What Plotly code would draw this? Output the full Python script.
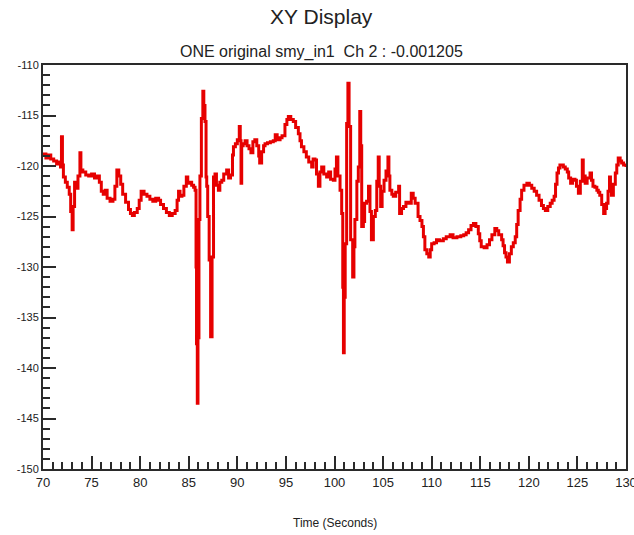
import plotly.graph_objects as go

# Time (seconds)
time_s = [
    70.0, 70.3, 70.5, 70.8, 71.1, 71.4, 71.6, 71.8, 71.9, 72.0, 72.1, 72.3, 72.5, 72.7, 72.85,
    73.0, 73.1, 73.25, 73.4, 73.6, 73.8, 73.9, 74.1, 74.4, 74.7, 75.0, 75.3, 75.6, 75.8, 76.0,
    76.2, 76.4, 76.6, 76.9, 77.2, 77.4, 77.6, 77.8, 78.0, 78.2, 78.5, 78.8, 79.0, 79.2, 79.4,
    79.7, 79.9, 80.1, 80.4, 80.7, 81.0, 81.3, 81.6, 81.9, 82.1, 82.4, 82.7, 83.0, 83.3, 83.6,
    83.8, 83.95, 84.1, 84.3, 84.5, 84.75, 84.9, 85.1, 85.3, 85.5, 85.65, 85.75, 85.8, 85.88, 85.95,
    86.05, 86.15, 86.3, 86.45, 86.55, 86.67, 86.78, 86.85, 86.95, 87.1, 87.25, 87.4, 87.55, 87.7, 87.85,
    88.05, 88.2, 88.4, 88.6, 88.9, 89.1, 89.3, 89.5, 89.6, 89.8, 90.0, 90.2, 90.3, 90.38, 90.45,
    90.6, 90.8, 91.0, 91.2, 91.4, 91.6, 91.8, 92.0, 92.2, 92.3, 92.5, 92.7, 92.85, 93.1, 93.4,
    93.7, 93.9, 94.1, 94.4, 94.6, 94.9, 95.1, 95.25, 95.5, 95.76, 96.0, 96.28, 96.45, 96.6, 96.85,
    97.1, 97.35, 97.65, 97.8, 97.99, 98.15, 98.34, 98.5, 98.68, 98.9, 99.19, 99.4, 99.6, 99.88, 100.05,
    100.2, 100.35, 100.57, 100.74, 100.85, 100.92, 101.0, 101.1, 101.25, 101.38, 101.5, 101.66, 101.87, 102.0, 102.1,
    102.3, 102.45, 102.6, 102.7, 102.8, 102.97, 103.1, 103.3, 103.5, 103.65, 103.8, 104.0, 104.2, 104.35, 104.5,
    104.6, 104.75, 104.9, 105.1, 105.3, 105.5, 105.6, 105.7, 105.9, 106.05, 106.3, 106.6, 106.7, 106.9, 107.1,
    107.35, 107.6, 107.9, 108.1, 108.3, 108.6, 108.8, 109.0, 109.15, 109.3, 109.5, 109.7, 109.85, 110.0, 110.25,
    110.5, 110.8, 111.2, 111.5, 111.9, 112.2, 112.6, 113.0, 113.3, 113.55, 113.8, 114.05, 114.3, 114.55, 114.8,
    114.95, 115.1, 115.4, 115.7, 115.95, 116.2, 116.5, 116.7, 116.9, 117.2, 117.35, 117.5, 117.65, 117.8, 118.0,
    118.2, 118.4, 118.6, 118.75, 118.9, 119.1, 119.26, 119.5, 119.8, 120.05, 120.3, 120.55, 120.8, 121.05, 121.3,
    121.5, 121.7, 121.95, 122.2, 122.4, 122.6, 122.75, 122.9, 123.05, 123.2, 123.55, 123.75, 123.96, 124.1, 124.3,
    124.5, 124.75, 124.9, 125.1, 125.3, 125.5, 125.6, 125.8, 126.0, 126.3, 126.45, 126.6, 126.8, 127.0, 127.15,
    127.3, 127.5, 127.7, 127.85, 128.0, 128.15, 128.3, 128.4, 128.5, 128.7, 128.9, 129.05, 129.2, 129.4, 129.55,
    129.75, 130.0,
]

# Channel 2 value
ch2 = [
    -118.8, -119.2, -118.9, -119.3, -119.5, -119.8, -119.6, -120.1, -117.1, -119.9, -121.1, -121.6, -122.1, -122.8, -124.5,
    -126.3, -124.0, -121.6, -122.2, -121.0, -118.7, -120.4, -120.6, -120.9, -121.0, -120.8, -121.2, -121.0, -121.6, -122.5,
    -122.8, -122.4, -123.2, -123.5, -123.3, -122.0, -120.4, -121.0, -121.8, -122.8, -123.6, -124.3, -124.7, -124.9, -124.6,
    -124.2, -123.4, -122.5, -122.8, -123.0, -123.3, -123.5, -123.2, -123.4, -123.8, -124.2, -124.6, -124.9, -124.7, -124.4,
    -123.4, -122.5, -123.0, -122.9, -122.0, -121.1, -121.7, -121.6, -121.9, -122.1, -122.4, -130.0, -137.6, -143.5, -137.0,
    -125.3, -121.0, -115.3, -112.6, -114.0, -115.6, -121.1, -122.0, -125.0, -129.3, -136.9, -129.0, -121.1, -120.8, -121.9,
    -122.4, -121.6, -121.4, -120.8, -120.4, -121.2, -120.9, -118.9, -118.1, -117.8, -117.4, -116.1, -117.5, -121.7, -118.0,
    -117.8, -117.5, -118.0, -118.3, -118.7, -117.6, -117.4, -118.0, -119.0, -119.7, -118.6, -118.0, -117.8, -117.7, -117.6,
    -117.5, -116.9, -117.4, -117.2, -117.0, -115.9, -115.4, -115.1, -115.4, -115.6, -116.2, -116.8, -117.5, -118.1, -118.6,
    -119.1, -119.6, -120.1, -119.3, -119.4, -120.8, -122.0, -120.6, -120.1, -120.8, -121.1, -120.6, -121.3, -121.4, -120.3,
    -119.1, -121.0, -122.4, -124.7, -132.0, -138.5, -133.0, -127.7, -115.8, -111.8, -116.1, -127.3, -131.0, -128.0, -125.3,
    -121.5, -120.1, -114.6, -118.0, -126.0, -125.5, -123.7, -123.5, -122.0, -124.5, -127.3, -125.0, -124.4, -121.5, -119.1,
    -122.0, -124.0, -122.5, -121.4, -120.5, -119.1, -121.0, -122.4, -122.8, -123.0, -122.6, -122.0, -124.7, -124.2, -124.0,
    -123.6, -123.7, -122.7, -123.2, -123.7, -125.0, -125.4, -126.0, -127.0, -128.3, -128.7, -129.0, -128.3, -127.7, -127.6,
    -127.3, -127.4, -127.2, -127.0, -126.8, -127.1, -127.0, -126.9, -126.8, -126.6, -126.3, -125.9, -125.7, -126.0, -126.7,
    -127.4, -128.0, -128.1, -127.8, -127.3, -126.8, -126.2, -126.4, -126.8, -127.3, -127.9, -128.6, -129.0, -129.5, -128.7,
    -128.0, -127.6, -127.0, -125.8, -124.4, -123.3, -122.4, -121.9, -121.7, -121.9, -122.2, -122.5, -122.9, -123.4, -123.9,
    -124.2, -124.4, -124.0, -123.7, -123.4, -123.0, -121.8, -120.7, -120.2, -119.9, -120.1, -120.3, -120.6, -121.2, -121.7,
    -121.3, -121.4, -122.0, -122.7, -121.5, -119.4, -121.0, -121.7, -121.2, -120.7, -121.4, -122.0, -122.1, -122.4, -122.6,
    -122.9, -123.8, -124.7, -124.2, -123.7, -122.5, -121.1, -122.3, -122.9, -121.8, -120.7, -119.9, -119.2, -119.5, -119.7,
    -119.9, -120.1,
]

title_text = "XY Display"
subtitle_text = "ONE original smy_in1  Ch 2 : -0.001205"
x_title = "Time (Seconds)"
x_ticks = [70, 75, 80, 85, 90, 95, 100, 105, 110, 115, 120, 125, 130]
y_ticks = [-150, -145, -140, -135, -130, -125, -120, -115, -110]

font_family = "Liberation Sans Narrow, Liberation Sans, Arial, sans-serif"
axis_col = "#2a2a2a"

fig = go.Figure()
fig.add_trace(go.Scatter(
    x=time_s, y=ch2, mode="lines",
    line=dict(color="#e60000", width=3, shape="hv"),
    hoverinfo="skip", showlegend=False,
))

fig.update_layout(
    width=634, height=535,
    margin=dict(l=43, r=8, t=65, b=66, autoexpand=False),
    paper_bgcolor="white", plot_bgcolor="white",
    font=dict(family=font_family, color="#222222"),
    showlegend=False,
    annotations=[
        dict(text=title_text, x=0.477, y=1.119, xref="paper", yref="paper",
             xanchor="center", yanchor="middle", showarrow=False,
             font=dict(size=21, family="Liberation Sans, Arial, sans-serif", color="#222222")),
        dict(text=subtitle_text, x=0.477, y=1.032, xref="paper", yref="paper",
             xanchor="center", yanchor="middle", showarrow=False,
             font=dict(size=16, family="Liberation Sans, Arial, sans-serif", color="#222222")),
        dict(text=x_title, x=0.5, y=-0.134, xref="paper", yref="paper",
             xanchor="center", yanchor="middle", showarrow=False,
             font=dict(size=12, family=font_family, color="#222222")),
    ],
)

fig.update_xaxes(
    range=[70, 130], tickvals=x_ticks, ticktext=[str(v) for v in x_ticks],
    ticks="inside", ticklen=13, tickwidth=1.5, tickcolor=axis_col,
    minor=dict(dtick=1, ticks="inside", ticklen=7, tickwidth=1.5, tickcolor=axis_col),
    showline=True, linecolor=axis_col, linewidth=2, mirror=True,
    showgrid=False, zeroline=False, ticklabeloverflow="allow",
    tickfont=dict(size=13, family=font_family, color="#222222"),
)
fig.update_yaxes(
    range=[-150, -110], tickvals=y_ticks, ticktext=[str(v) for v in y_ticks],
    ticks="inside", ticklen=13, tickwidth=1.5, tickcolor=axis_col,
    minor=dict(dtick=1, ticks="inside", ticklen=7, tickwidth=1.5, tickcolor=axis_col),
    showline=True, linecolor=axis_col, linewidth=2, mirror=True,
    showgrid=False, zeroline=False, ticklabeloverflow="allow",
    tickfont=dict(size=11, family=font_family, color="#222222"),
)

fig.write_html("out.html", config={"displayModeBar": False},
               post_script="document.body.style.margin='0';")
